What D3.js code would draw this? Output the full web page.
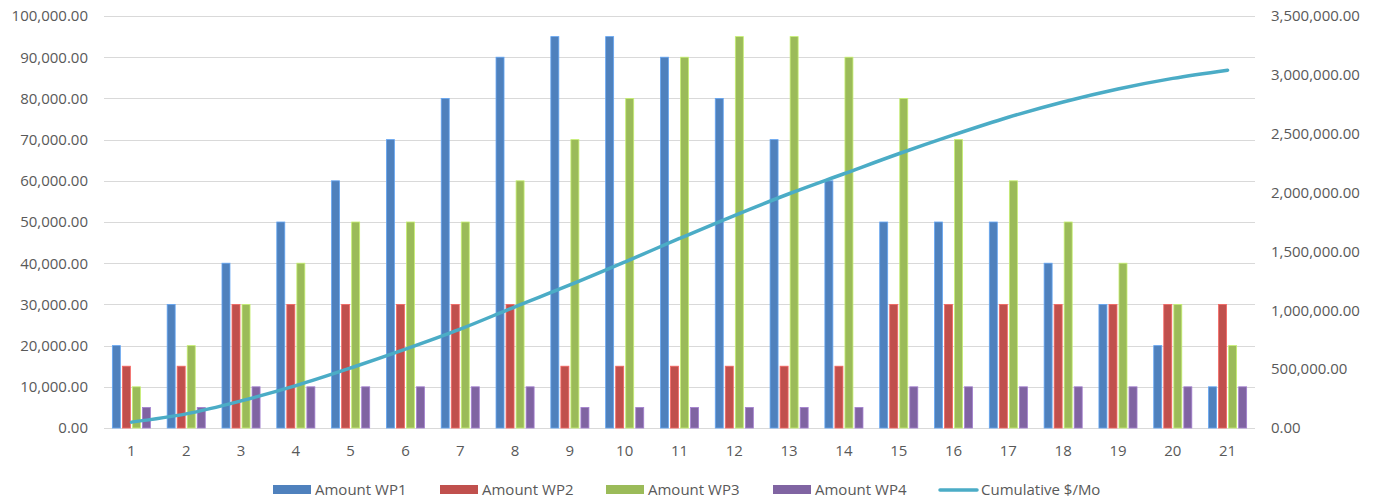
<!DOCTYPE html>
<html>
<head>
<meta charset="utf-8">
<script src="https://cdn.jsdelivr.net/npm/d3@7"></script>
<style>
  html, body { margin: 0; padding: 0; background: #fff; }
  svg { display: block; font-family: "Open Sans", "Noto Sans", sans-serif; }
</style>
</head>
<body>
<svg id="chart" width="1376" height="502"></svg>
<script>
// Monthly work-package amounts and running total
const months = d3.range(1, 22).map(String);
const amountWP1 = [20000, 30000, 40000, 50000, 60000, 70000, 80000, 90000, 95000, 95000, 90000, 80000, 70000, 60000, 50000, 50000, 50000, 40000, 30000, 20000, 10000];
const amountWP2 = [15000, 15000, 30000, 30000, 30000, 30000, 30000, 30000, 15000, 15000, 15000, 15000, 15000, 15000, 30000, 30000, 30000, 30000, 30000, 30000, 30000];
const amountWP3 = [10000, 20000, 30000, 40000, 50000, 50000, 50000, 60000, 70000, 80000, 90000, 95000, 95000, 90000, 80000, 70000, 60000, 50000, 40000, 30000, 20000];
const amountWP4 = [5000, 5000, 10000, 10000, 10000, 10000, 10000, 10000, 5000, 5000, 5000, 5000, 5000, 5000, 10000, 10000, 10000, 10000, 10000, 10000, 10000];
const cumulative = [50000, 120000, 230000, 360000, 510000, 670000, 840000, 1030000, 1215000, 1410000, 1610000, 1805000, 1990000, 2160000, 2330000, 2490000, 2640000, 2770000, 2880000, 2970000, 3040000];
const leftTicks = [0, 10000, 20000, 30000, 40000, 50000, 60000, 70000, 80000, 90000, 100000];
const rightTicks = [0, 500000, 1000000, 1500000, 2000000, 2500000, 3000000, 3500000];

const barSeries = [
  { name: "Amount WP1", values: amountWP1, color: "#4F81BD" },
  { name: "Amount WP2", values: amountWP2, color: "#C0504D" },
  { name: "Amount WP3", values: amountWP3, color: "#9BBB59" },
  { name: "Amount WP4", values: amountWP4, color: "#8064A2" }
];
const lineSeries = { name: "Cumulative $/Mo", values: cumulative, color: "#4BACC6" };

const plot = { left: 104, right: 1255, top: 16, bottom: 428 };
const textColor = "#595959";
const gridColor = "#D9D9D9";
const fmt = d3.format(",.2f");

const svg = d3.select("#chart");

const x = d3.scaleBand().domain(months).range([plot.left, plot.right]);
const yL = d3.scaleLinear().domain([0, 100000]).range([plot.bottom, plot.top]);
const yR = d3.scaleLinear().domain([0, 3500000]).range([plot.bottom, plot.top]);

const band = x.bandwidth();
const barW = band * 0.146;
const barStep = band * 0.183;
const groupW = barStep * 3 + barW;
const inner = d3.scaleBand().domain(barSeries.map(s => s.name)).range([0, 1]);

// Gridlines
svg.append("g")
  .selectAll("line")
  .data(leftTicks)
  .join("line")
  .attr("x1", plot.left).attr("x2", plot.right)
  .attr("y1", d => Math.round(yL(d)) + 0.5).attr("y2", d => Math.round(yL(d)) + 0.5)
  .attr("stroke", gridColor).attr("stroke-width", 1);

// Left axis
const axisL = svg.append("g")
  .attr("transform", `translate(${plot.left - 16},0)`)
  .call(d3.axisLeft(yL).tickValues(leftTicks).tickFormat(fmt).tickSize(0).tickPadding(0));
axisL.select(".domain").remove();
axisL.selectAll("text").attr("fill", textColor).style("font-size", "15px").style("font-family", "'Open Sans', sans-serif");

// Right axis
const axisR = svg.append("g")
  .attr("transform", `translate(${plot.right + 16},0)`)
  .call(d3.axisRight(yR).tickValues(rightTicks).tickFormat(fmt).tickSize(0).tickPadding(0));
axisR.select(".domain").remove();
axisR.selectAll("text").attr("fill", textColor).style("font-size", "15px").style("font-family", "'Open Sans', sans-serif");

// Category axis
const axisB = svg.append("g")
  .attr("transform", `translate(0,${plot.bottom + 17})`)
  .call(d3.axisBottom(x).tickSize(0).tickPadding(0));
axisB.select(".domain").remove();
axisB.selectAll("text").attr("fill", textColor).style("font-size", "15px").style("font-family", "'Open Sans', sans-serif")
  .attr("dy", "0.71em");

// Bars
barSeries.forEach((s, i) => {
  const edge = d3.color(s.color).brighter(0.7);
  svg.append("g")
    .selectAll("rect")
    .data(s.values.map((v, j) => ({ m: months[j], v })))
    .join("rect")
    .attr("x", d => x(d.m) + (band - groupW) / 2 + i * barStep)
    .attr("y", d => yL(d.v))
    .attr("width", barW)
    .attr("height", d => yL(0) - yL(d.v))
    .attr("fill", s.color)
    .attr("stroke", edge)
    .attr("stroke-width", 0.8);
});

// Cumulative line
const line = d3.line()
  .x((d, j) => x(months[j]) + band / 2)
  .y(d => yR(d))
  .curve(d3.curveCatmullRom.alpha(0.5));
svg.append("path")
  .datum(lineSeries.values)
  .attr("d", line)
  .attr("fill", "none")
  .attr("stroke", lineSeries.color)
  .attr("stroke-width", 3.5)
  .attr("stroke-linecap", "round")
  .attr("stroke-linejoin", "round");

// Legend
const legendY = 490;
const legendItems = [
  { name: barSeries[0].name, color: barSeries[0].color, type: "bar", x: 273 },
  { name: barSeries[1].name, color: barSeries[1].color, type: "bar", x: 440 },
  { name: barSeries[2].name, color: barSeries[2].color, type: "bar", x: 606 },
  { name: barSeries[3].name, color: barSeries[3].color, type: "bar", x: 773 },
  { name: lineSeries.name, color: lineSeries.color, type: "line", x: 938 }
];
const lg = svg.append("g");
legendItems.forEach(it => {
  const g = lg.append("g");
  if (it.type === "bar") {
    g.append("rect").attr("x", it.x).attr("y", legendY - 5).attr("width", 38).attr("height", 9).attr("fill", it.color);
    g.append("text").attr("x", it.x + 42).attr("y", legendY).attr("dy", "0.35em")
      .attr("fill", textColor).style("font-size", "15px").text(it.name);
  } else {
    g.append("line").attr("x1", it.x + 2).attr("x2", it.x + 39).attr("y1", legendY).attr("y2", legendY)
      .attr("stroke", it.color).attr("stroke-width", 3.5).attr("stroke-linecap", "round");
    g.append("text").attr("x", it.x + 43).attr("y", legendY).attr("dy", "0.35em")
      .attr("fill", textColor).style("font-size", "15px").text(it.name);
  }
});
</script>
</body>
</html>
